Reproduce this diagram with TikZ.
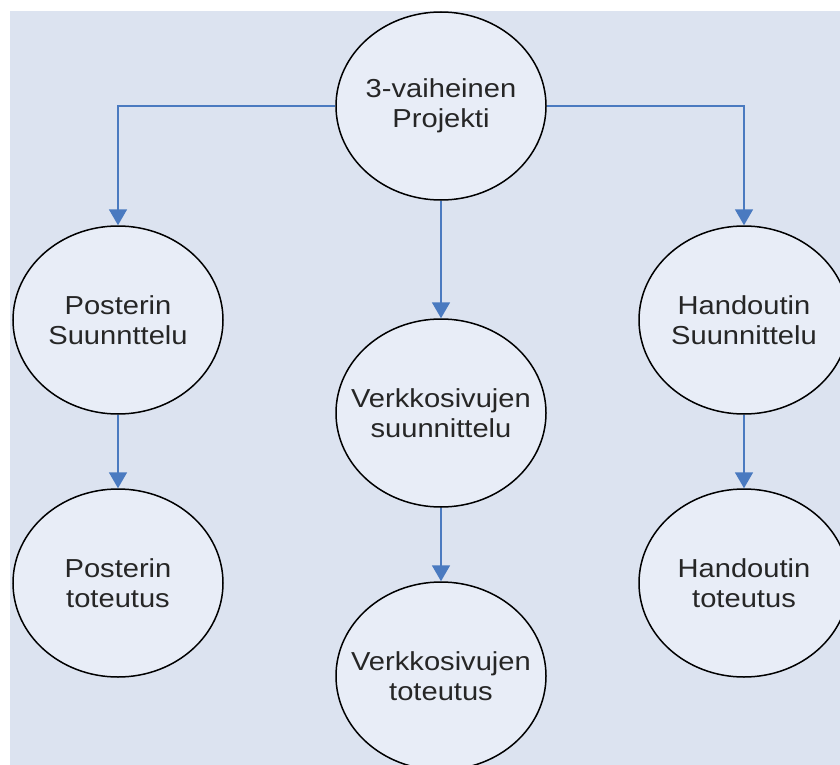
\documentclass[tikz,border=0pt]{standalone}
\usepackage{fontspec}
\setmainfont{Liberation Sans}[FakeStretch=1.12]
\usetikzlibrary{shapes.geometric,arrows.meta}

\definecolor{bgblue}{RGB}{220,227,240}
\definecolor{phasefill}{RGB}{232,237,247}
\definecolor{flowblue}{RGB}{74,122,192}

\tikzset{
  phase/.style={ellipse, draw=black, line width=1.5pt, fill=phasefill,
    minimum width=210pt, minimum height=188pt, inner xsep=-25pt, inner ysep=0pt,
    align=center, text=black!85, font=\fontsize{26}{30}\selectfont},
  flow/.style={draw=flowblue, line width=1.8pt, -{Triangle[width=18pt,length=16pt]}}
}

\begin{document}
\begin{tikzpicture}[x=1pt, y=1pt]

% Page frame with the light blue sheet behind the chart
  \clip (0,0) rectangle (840,-765);
  \fill[bgblue] (10,-11) rectangle (840,-765);

  \node[phase] (projekti) at (441,-106) {3-vaiheinen\\Projekti};
  \node[phase] (postsuun) at (118,-320) {Posterin\\Suunnttelu};
  \node[phase] (posttot)  at (118,-583) {Posterin\\toteutus};
  \node[phase] (verksuun) at (441,-413) {Verkkosivujen\\suunnittelu};
  \node[phase] (verktot)  at (441,-676) {Verkkosivujen\\toteutus};
  \node[phase] (handsuun) at (744,-320) {Handoutin\\Suunnittelu};
  \node[phase] (handtot)  at (744,-583) {Handoutin\\toteutus};

  \draw[flow] (projekti.west) -| (postsuun.north);
  \draw[flow] (projekti.east) -| (handsuun.north);
  \draw[flow] (projekti.south) -- (verksuun.north);
  \draw[flow] (postsuun.south) -- (posttot.north);
  \draw[flow] (verksuun.south) -- (verktot.north);
  \draw[flow] (handsuun.south) -- (handtot.north);
\end{tikzpicture}
\end{document}
